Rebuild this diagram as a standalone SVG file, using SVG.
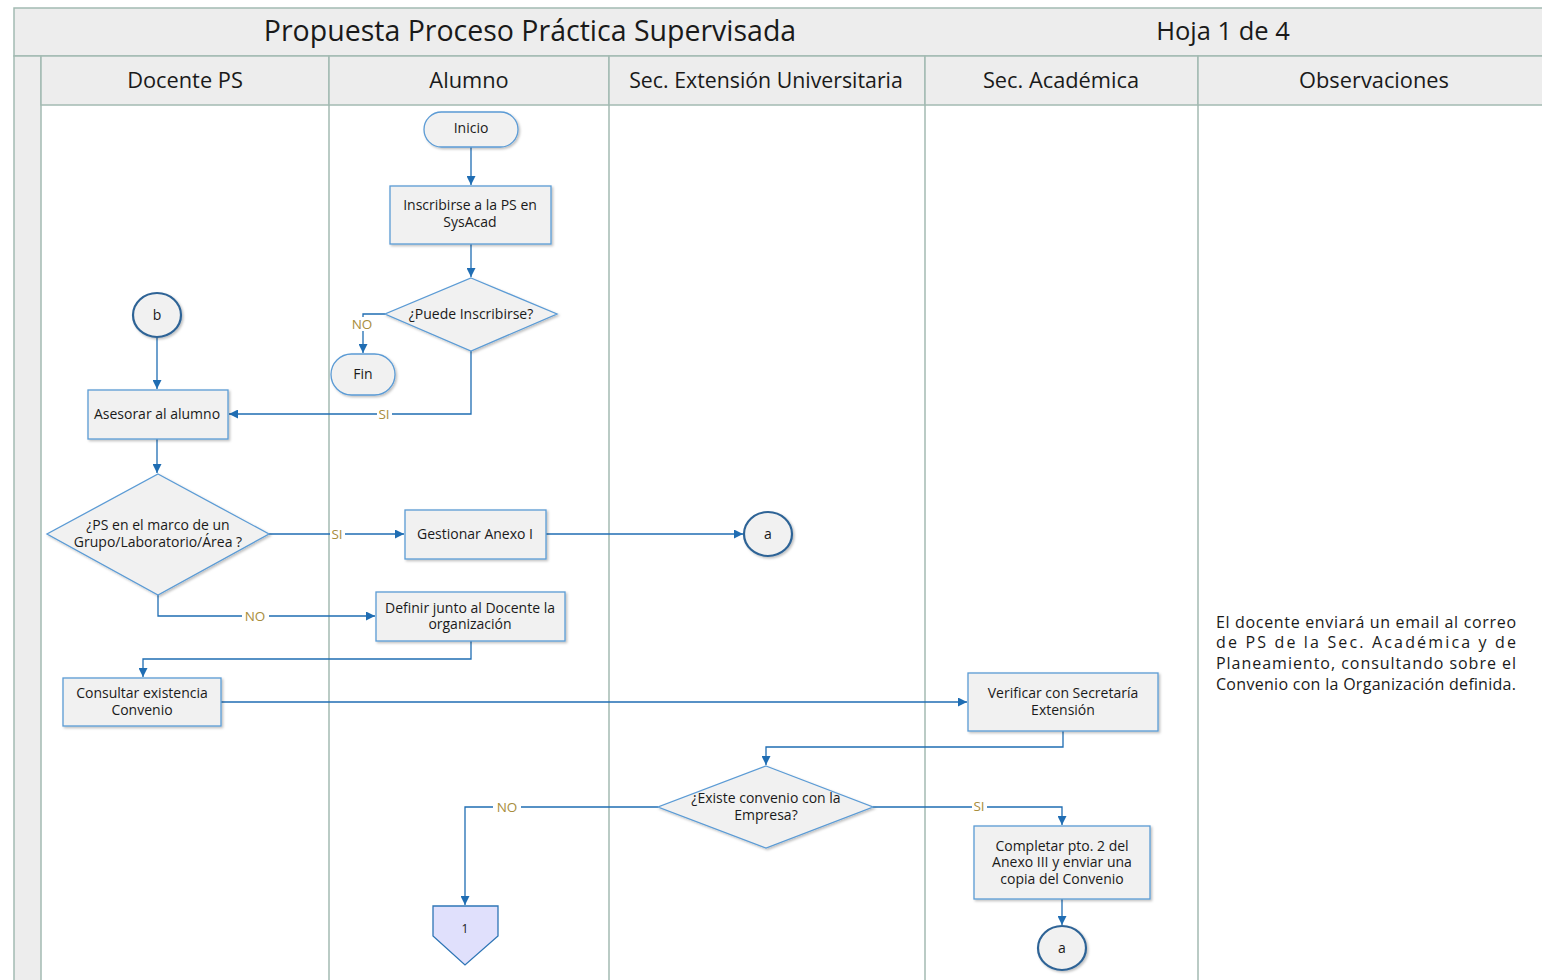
<svg xmlns="http://www.w3.org/2000/svg" width="1542" height="980" viewBox="0 0 1542 980">
<defs>
<style>
.hdr{fill:#ededed;stroke:#a3bab2;stroke-width:1.5}
.lane{stroke:#a3bab2;stroke-width:1.5;fill:none}
.t{font-family:"Open Sans","Noto Sans",sans-serif;fill:#1a1a1a;text-anchor:middle}
.n{fill:#f1f1f1;stroke:#5b9bd5;stroke-width:1.3;filter:url(#sh)}
.c{fill:#f1f1f1;stroke:#2e6496;stroke-width:2.2;filter:url(#sh)}
.e{fill:none;stroke:#1f6db3;stroke-width:1.3;marker-end:url(#ah)}
.lb{font-family:"Open Sans","Noto Sans",sans-serif;font-size:13.5px;fill:#a88d3c;text-anchor:middle}
.lbg{fill:#ffffff}
.obs{font-family:"Open Sans","Noto Sans",sans-serif;font-size:16px;fill:#1a1a1a}
</style>
<marker id="ah" viewBox="0 0 10 10" refX="10" refY="5" markerWidth="9" markerHeight="9" markerUnits="userSpaceOnUse" orient="auto">
<path d="M0,0 L10,5 L0,10 z" fill="#1f6db3"/>
</marker>
<filter id="sh" x="-10%" y="-10%" width="130%" height="130%">
<feDropShadow dx="1.5" dy="1.5" stdDeviation="1.2" flood-color="#000" flood-opacity="0.25"/>
</filter>
</defs>
<rect width="1542" height="980" fill="#ffffff"/>
<g id="pool">
<rect class="hdr" x="14" y="8" width="1540" height="48"/>
<rect class="hdr" x="14" y="56" width="27" height="930"/>
<rect class="hdr" x="41" y="56" width="288" height="49"/>
<rect class="hdr" x="329" y="56" width="280" height="49"/>
<rect class="hdr" x="609" y="56" width="316" height="49"/>
<rect class="hdr" x="925" y="56" width="273" height="49"/>
<rect class="hdr" x="1198" y="56" width="356" height="49"/>
<line class="lane" x1="329" y1="105" x2="329" y2="980"/>
<line class="lane" x1="609" y1="105" x2="609" y2="980"/>
<line class="lane" x1="925" y1="105" x2="925" y2="980"/>
<line class="lane" x1="1198" y1="105" x2="1198" y2="980"/>
<text class="t" x="530" y="41" font-size="28.5">Propuesta Proceso Práctica Supervisada</text>
<text class="t" x="1223" y="40" font-size="25.5">Hoja 1 de 4</text>
<text class="t" x="185" y="88" font-size="21.8">Docente PS</text>
<text class="t" x="469" y="88" font-size="21.8">Alumno</text>
<text class="t" x="766" y="88" font-size="21.3">Sec. Extensión Universitaria</text>
<text class="t" x="1061" y="88" font-size="21.8">Sec. Académica</text>
<text class="t" x="1374" y="88" font-size="21.8">Observaciones</text>
</g>
<g id="connectors">
<path class="e" d="M471,147 L471,185"/>
<path class="e" d="M471,244 L471,277"/>
<path class="e" d="M385,314 L363,314 L363,353"/>
<path class="e" d="M471,351 L471,414 L229,414"/>
<path class="e" d="M157,337 L157,389"/>
<path class="e" d="M157,439 L157,473"/>
<path class="e" d="M269,534 L404,534"/>
<path class="e" d="M546,534 L743,534"/>
<path class="e" d="M158,595 L158,616 L375,616"/>
<path class="e" d="M471,641 L471,659 L143,659 L143,677"/>
<path class="e" d="M221,702 L967,702"/>
<path class="e" d="M1063,731 L1063,747 L766,747 L766,765"/>
<path class="e" d="M873,807 L1062,807 L1062,825"/>
<path class="e" d="M658,807 L465,807 L465,905"/>
<path class="e" d="M1062,899 L1062,925"/>
<rect class="lbg" x="350" y="317" width="25" height="14"/>
<text class="lb" x="362" y="329">NO</text>
<rect class="lbg" x="377" y="407" width="15" height="14"/>
<text class="lb" x="384" y="419">SI</text>
<rect class="lbg" x="330" y="527" width="15" height="14"/>
<text class="lb" x="337" y="539">SI</text>
<rect class="lbg" x="242" y="609" width="27" height="14"/>
<text class="lb" x="255" y="621">NO</text>
<rect class="lbg" x="493" y="800" width="28" height="14"/>
<text class="lb" x="507" y="812">NO</text>
<rect class="lbg" x="972" y="800" width="15" height="14"/>
<text class="lb" x="979" y="811">SI</text>
</g>
<g id="inicio"><rect class="n" x="424" y="112" width="94" height="35" rx="17.5"/><text class="t" x="471" y="133" font-size="14">Inicio</text></g>
<g id="inscribirse"><rect class="n" x="390" y="186" width="161" height="58"/><text class="t" x="470" y="210" font-size="14">Inscribirse a la PS en</text><text class="t" x="470" y="227" font-size="14">SysAcad</text></g>
<g id="puede"><polygon class="n" points="471,278 557,314 471,351 385,314"/><text class="t" x="471" y="319" font-size="14">¿Puede Inscribirse?</text></g>
<g id="fin"><rect class="n" x="331" y="354" width="64" height="41" rx="20.5"/><text class="t" x="363" y="379" font-size="14">Fin</text></g>
<g id="b"><ellipse class="c" cx="157" cy="315" rx="24" ry="22"/><text class="t" x="157" y="320" font-size="14">b</text></g>
<g id="asesorar"><rect class="n" x="88" y="390" width="140" height="49"/><text class="t" x="157" y="419" font-size="14">Asesorar al alumno</text></g>
<g id="psmarco"><polygon class="n" points="158,474 269,534 158,595 47,534"/><text class="t" x="158" y="530" font-size="14">¿PS en el marco de un</text><text class="t" x="158" y="547" font-size="14">Grupo/Laboratorio/Área ?</text></g>
<g id="gestionar"><rect class="n" x="405" y="510" width="141" height="49"/><text class="t" x="475" y="539" font-size="14">Gestionar Anexo I</text></g>
<g id="a1"><ellipse class="c" cx="768" cy="534" rx="24" ry="22"/><text class="t" x="768" y="539" font-size="14">a</text></g>
<g id="definir"><rect class="n" x="376" y="592" width="189" height="49"/><text class="t" x="470" y="613" font-size="14">Definir junto al Docente la</text><text class="t" x="470" y="629" font-size="14">organización</text></g>
<g id="consultar"><rect class="n" x="63" y="678" width="158" height="48"/><text class="t" x="142" y="698" font-size="14">Consultar existencia</text><text class="t" x="142" y="715" font-size="14">Convenio</text></g>
<g id="verificar"><rect class="n" x="968" y="673" width="190" height="58"/><text class="t" x="1063" y="698" font-size="14">Verificar con Secretaría</text><text class="t" x="1063" y="715" font-size="14">Extensión</text></g>
<g id="existe"><polygon class="n" points="766,766 873,807 766,848 658,807"/><text class="t" x="766" y="803" font-size="14">¿Existe convenio con la</text><text class="t" x="766" y="820" font-size="14">Empresa?</text></g>
<g id="completar"><rect class="n" x="974" y="826" width="176" height="73"/><text class="t" x="1062" y="851" font-size="14">Completar pto. 2 del</text><text class="t" x="1062" y="867" font-size="14">Anexo III y enviar una</text><text class="t" x="1062" y="884" font-size="14">copia del Convenio</text></g>
<g id="a2"><ellipse class="c" cx="1062" cy="948" rx="24" ry="22"/><text class="t" x="1062" y="953" font-size="14">a</text></g>
<g id="offpage1"><polygon points="433,906 498,906 498,936 465,965 433,936" fill="#e0e0fc" stroke="#2e75b6" stroke-width="1.3"/><text class="t" x="465" y="933" font-size="12">1</text></g>
<g id="obs">
<text class="obs" x="1216" y="628" textLength="300" lengthAdjust="spacing">El docente enviará un email al correo</text>
<text class="obs" x="1216" y="648" textLength="300" lengthAdjust="spacing">de PS de la Sec. Académica y de</text>
<text class="obs" x="1216" y="669" textLength="300" lengthAdjust="spacing">Planeamiento, consultando sobre el</text>
<text class="obs" x="1216" y="690" textLength="300" lengthAdjust="spacing">Convenio con la Organización definida.</text>
</g>
</svg>
